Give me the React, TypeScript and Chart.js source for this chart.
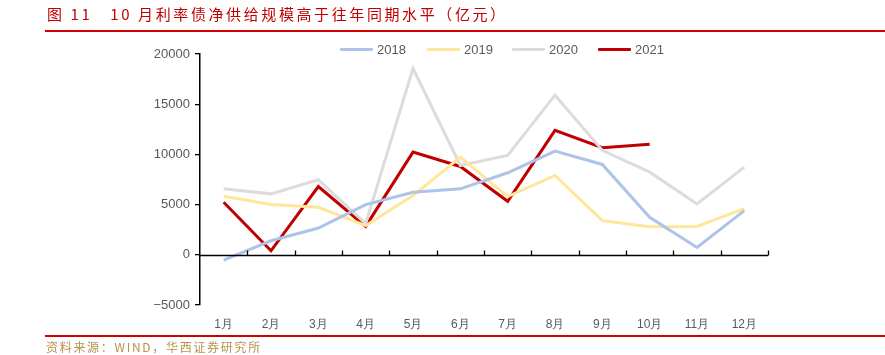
import React, { useEffect, useRef } from "react";
import { Chart, registerables } from "chart.js";

Chart.register(...registerables);

const months = ["1月", "2月", "3月", "4月", "5月", "6月", "7月", "8月", "9月", "10月", "11月", "12月"];
const s2018 = [-530, 1400, 2670, 5000, 6230, 6570, 8170, 10330, 9000, 3730, 730, 4400];
const s2019 = [5830, 5000, 4730, 2900, 5900, 9730, 5800, 7900, 3400, 2800, 2830, 4600];
const s2020 = [6570, 6070, 7470, 3100, 18570, 8900, 9900, 15900, 10400, 8230, 5070, 8730];
const s2021 = [5230, 400, 6800, 2830, 10230, 8800, 5330, 12400, 10670, 11000, null, null];
const seriesNames = ["2018", "2019", "2020", "2021"];
const seriesColors = ["#aec3e8", "#ffe699", "#dcdcdc", "#c00000"];
const yTicks = [-5000, 0, 5000, 10000, 15000, 20000];

const zeroAxisPlugin = {
  id: "zeroAxis",
  afterDatasetsDraw(chart: any) {
    const { ctx, chartArea, scales } = chart;
    const y0 = Math.round(scales.y.getPixelForValue(0)) + 0.5;
    ctx.save();
    ctx.strokeStyle = "#000";
    ctx.lineWidth = 1.3;
    ctx.beginPath();
    ctx.moveTo(chartArea.left, y0);
    ctx.lineTo(chartArea.right, y0);
    const n = months.length;
    const w = (chartArea.right - chartArea.left) / n;
    for (let i = 1; i <= n; i++) {
      const x = Math.round(chartArea.left + i * w) + 0.5;
      ctx.moveTo(x, y0);
      ctx.lineTo(x, y0 - 5);
    }
    ctx.stroke();
    ctx.restore();
  },
};

function ChartView() {
  const ref = useRef<HTMLCanvasElement>(null);
  useEffect(() => {
    if (!ref.current) return;
    const data = [s2018, s2019, s2020, s2021];
    const chart = new Chart(ref.current, {
      type: "line",
      data: {
        labels: months,
        datasets: data.map((d, i) => ({
          label: seriesNames[i],
          data: d,
          borderColor: seriesColors[i],
          backgroundColor: seriesColors[i],
          borderWidth: 3,
          pointRadius: 0,
          tension: 0,
          spanGaps: false,
        })),
      },
      options: {
        animation: false,
        responsive: false,
        maintainAspectRatio: false,
        layout: { padding: { left: 130, right: 117, top: 54, bottom: 21 } },
        plugins: { legend: { display: false }, tooltip: { enabled: false } },
        scales: {
          x: {
            type: "category",
            offset: true,
            grid: { display: false, drawTicks: false },
            border: { display: false },
            ticks: { color: "#595959", font: { family: "Liberation Sans, Arial", size: 12 }, padding: 12, maxRotation: 0 },
            afterFit: (s: any) => { s.height = 29; },
          },
          y: {
            min: -5000,
            max: 20000,
            afterBuildTicks: (s: any) => { s.ticks = yTicks.map((v) => ({ value: v })); },
            grid: { drawOnChartArea: false, drawTicks: true, tickLength: 5, color: "#000", lineWidth: 1.3 },
            border: { display: true, color: "#000", width: 1.5 },
            ticks: {
              color: "#595959",
              font: { family: "Liberation Sans, Arial", size: 13 },
              padding: 5,
              callback: (v: any) => (Number(v) < 0 ? "\u2212" + Math.abs(Number(v)) : String(v)),
            },
            afterFit: (s: any) => { s.width = 70; },
          },
        },
      },
      plugins: [zeroAxisPlugin],
    });
    return () => chart.destroy();
  }, []);
  return <canvas ref={ref} width={885} height={355} style={{ position: "absolute", left: 0, top: 0 }} />;
}

export default function App() {
  const legendX = [340, 427, 512, 598];
  return (
    <div style={{ position: "fixed", left: 0, top: 0, width: 885, height: 355, background: "#fff", overflow: "hidden", fontFamily: "'Noto Sans CJK SC', sans-serif" }}>
      <ChartView />
      <div style={{ position: "absolute", left: 47, top: 4, fontSize: 15, lineHeight: "20px", letterSpacing: 2.6, color: "#c00000", whiteSpace: "pre", fontFamily: "'Noto Sans CJK SC', sans-serif" }}>
        {"图 11   10 月利率债净供给规模高于往年同期水平（亿元）"}
      </div>
      <div style={{ position: "absolute", left: 45, top: 30, width: 840, height: 2, background: "#d00000" }} />
      {seriesNames.map((n, i) => (
        <div key={n} style={{ position: "absolute", left: legendX[i], top: 40, height: 18, display: "flex", alignItems: "center" }}>
          <div style={{ width: 33, height: 3, background: seriesColors[i], borderRadius: 1 }} />
          <span style={{ marginLeft: 4, fontSize: 13, color: "#595959", fontFamily: "'Liberation Sans', Arial, sans-serif" }}>{n}</span>
        </div>
      ))}
      <div style={{ position: "absolute", left: 45, top: 335, width: 840, height: 2, background: "#d00000" }} />
      <div style={{ position: "absolute", left: 46, top: 339, fontSize: 12, lineHeight: "15px", letterSpacing: 1.7, color: "#b8914a", whiteSpace: "pre", fontFamily: "'Noto Sans CJK SC', sans-serif" }}>
        {"资料来源：WIND，华西证券研究所"}
      </div>
    </div>
  );
}
